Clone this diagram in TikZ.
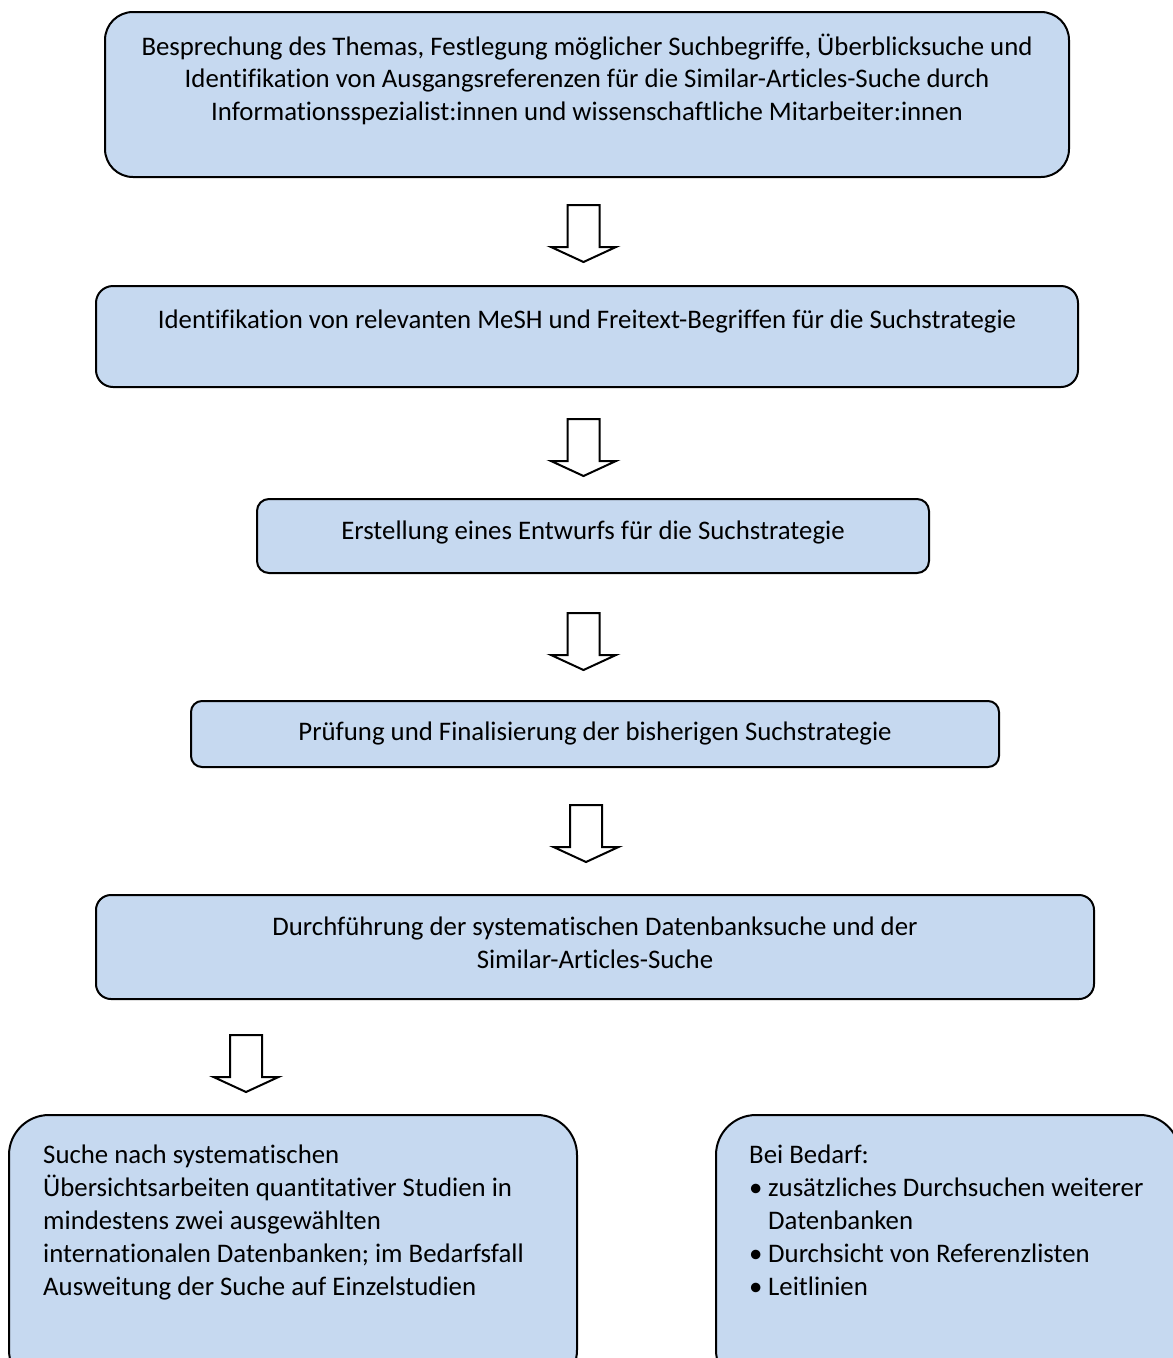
\documentclass[tikz,border=0pt]{standalone}
\usepackage{fontspec}
\setmainfont{Carlito}[Ligatures={NoCommon}]
\usetikzlibrary{calc}
\definecolor{boxfill}{RGB}{198,217,240}
\tikzset{
  box/.style={draw=black, fill=boxfill, line width=2pt, inner sep=0pt},
  txt/.style={inner sep=0pt, anchor=base, font=\fontsize{26.8}{33}\selectfont},
  ltxt/.style={txt, anchor=base west},
  arr/.style={draw=black, fill=white, line width=2pt, line join=miter},
}
\newcommand\myblockarrow[3]{%
  \coordinate (#1) at (#2,#3);
  \draw[arr] (#1) ++(-16,0) -- ++(0,42) -- ++(-16.5,0) -- ++(32.5,15) -- ++(32.5,-15) -- ++(-16.5,0) -- ++(0,-42) -- cycle;
}
\begin{document}
\begin{tikzpicture}[x=1pt,y=-1pt]
\useasboundingbox (0,0) rectangle (1173,1358);
\clip (0,0) rectangle (1173,1358);
\fill[white] (0,0) rectangle (1173,1358);

% boxes
\node[box, rounded corners=28pt, minimum width=964pt, minimum height=165pt] (b1) at (587,94.5) {};
\node[box, rounded corners=17pt, minimum width=982pt, minimum height=101pt] (b2) at (587,336.5) {};
\node[box, rounded corners=12pt, minimum width=672pt, minimum height=74pt] (b3) at (593,536) {};
\node[box, rounded corners=11pt, minimum width=808pt, minimum height=66pt] (b4) at (595,734) {};
\node[box, rounded corners=15pt, minimum width=998pt, minimum height=104pt] (b5) at (595,947) {};
\node[box, rounded corners=40pt, minimum width=568pt, minimum height=275pt] (b6) at (293,1252.5) {};
\node[box, rounded corners=40pt, minimum width=464pt, minimum height=275pt] (b7) at (948,1252.5) {};

% texts box 1
\node[txt] (t1a) at (587,55) {Besprechung des Themas, Festlegung möglicher Suchbegriffe, Überblicksuche und};
\node[txt] (t1b) at (587,87.5) {Identifikation von Ausgangsreferenzen für die Similar-Articles-Suche durch};
\node[txt] (t1c) at (587,120) {Informationsspezialist:innen und wissenschaftliche Mitarbeiter:innen};
% box 2
\node[txt] (t2) at (587,328) {Identifikation von relevanten MeSH und Freitext-Begriffen für die Suchstrategie};
% box 3
\node[txt] (t3) at (593,539) {Erstellung eines Entwurfs für die Suchstrategie};
% box 4
\node[txt] (t4) at (595,740) {Prüfung und Finalisierung der bisherigen Suchstrategie};
% box 5
\node[txt] (t5a) at (595,935) {Durchführung der systematischen Datenbanksuche und der};
\node[txt] (t5b) at (595,968) {Similar-Articles-Suche};
% box 6
\node[ltxt] (t6a) at (43,1163) {Suche nach systematischen};
\node[ltxt] (t6b) at (43,1196) {Übersichtsarbeiten quantitativer Studien in};
\node[ltxt] (t6c) at (43,1229) {mindestens zwei ausgewählten};
\node[ltxt] (t6d) at (43,1262) {internationalen Datenbanken; im Bedarfsfall};
\node[ltxt] (t6e) at (43,1295) {Ausweitung der Suche auf Einzelstudien};
% box 7
\node[ltxt] (t7a) at (749,1163) {Bei Bedarf:};
\node[ltxt] (t7b1) at (749,1196) {•};
\node[ltxt] (t7b) at (768,1196) {zusätzliches Durchsuchen weiterer};
\node[ltxt] (t7c) at (768,1229) {Datenbanken};
\node[ltxt] (t7d1) at (749,1262) {•};
\node[ltxt] (t7d) at (768,1262) {Durchsicht von Referenzlisten};
\node[ltxt] (t7e1) at (749,1295) {•};
\node[ltxt] (t7e) at (768,1295) {Leitlinien};

% block arrows
\myblockarrow{a1}{583.5}{205}
\myblockarrow{a2}{583.5}{419}
\myblockarrow{a3}{583.5}{613}
\myblockarrow{a4}{586}{805}
\myblockarrow{a5}{246}{1035}
\end{tikzpicture}
\end{document}
